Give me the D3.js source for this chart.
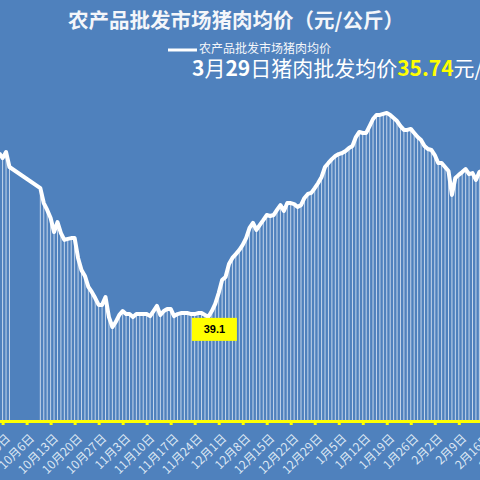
<!DOCTYPE html>
<html>
<head>
<meta charset="utf-8">
<script src="https://cdn.jsdelivr.net/npm/d3@7"></script>
<style>
html, body { margin: 0; padding: 0; background: #4f81bd; overflow: hidden; }
svg { display: block; }
</style>
</head>
<body>
<svg id="chart" width="480" height="480"></svg>
<script>
const titleText = "农产品批发市场猪肉均价（元/公斤）";
const seriesName = "农产品批发市场猪肉均价";
// subtitle pieces: [text, bold, yellow]
const noteParts = [
    ["3", true, false], ["月", false, false], ["29", true, false],
    ["日猪肉批发均价", false, false], ["35.74", true, true], ["元/公斤", false, false]
];

const priceDates = [
    "2020-09-28", "2020-09-29", "2020-09-30", "2020-10-01",
    "2020-10-10", "2020-10-11", "2020-10-12", "2020-10-13", "2020-10-14", "2020-10-15", "2020-10-16",
    "2020-10-17", "2020-10-18", "2020-10-19", "2020-10-20", "2020-10-21", "2020-10-22", "2020-10-23",
    "2020-10-24", "2020-10-25", "2020-10-26", "2020-10-27", "2020-10-28", "2020-10-29", "2020-10-30",
    "2020-10-31",
    "2020-11-01", "2020-11-02", "2020-11-03", "2020-11-04", "2020-11-05", "2020-11-06", "2020-11-07",
    "2020-11-08", "2020-11-09", "2020-11-10", "2020-11-11", "2020-11-12", "2020-11-13", "2020-11-14",
    "2020-11-15", "2020-11-16", "2020-11-17", "2020-11-18", "2020-11-19", "2020-11-20", "2020-11-21",
    "2020-11-22", "2020-11-23", "2020-11-24", "2020-11-25", "2020-11-26", "2020-11-27", "2020-11-28",
    "2020-11-29", "2020-11-30",
    "2020-12-01", "2020-12-02", "2020-12-03", "2020-12-04", "2020-12-05", "2020-12-06", "2020-12-07",
    "2020-12-08", "2020-12-09", "2020-12-10", "2020-12-11", "2020-12-12", "2020-12-13", "2020-12-14",
    "2020-12-15", "2020-12-16", "2020-12-17", "2020-12-18", "2020-12-19", "2020-12-20", "2020-12-21",
    "2020-12-22", "2020-12-23", "2020-12-24", "2020-12-25", "2020-12-26", "2020-12-27", "2020-12-28",
    "2020-12-29", "2020-12-30", "2020-12-31",
    "2021-01-01", "2021-01-02", "2021-01-03", "2021-01-04", "2021-01-05", "2021-01-06", "2021-01-07",
    "2021-01-08", "2021-01-09", "2021-01-10", "2021-01-11", "2021-01-12", "2021-01-13", "2021-01-14",
    "2021-01-15", "2021-01-16", "2021-01-17", "2021-01-18", "2021-01-19", "2021-01-20", "2021-01-21",
    "2021-01-22", "2021-01-23", "2021-01-24", "2021-01-25", "2021-01-26", "2021-01-27", "2021-01-28",
    "2021-01-29", "2021-01-30", "2021-01-31",
    "2021-02-01", "2021-02-02", "2021-02-03", "2021-02-04", "2021-02-05", "2021-02-06", "2021-02-07",
    "2021-02-08", "2021-02-09", "2021-02-10", "2021-02-11", "2021-02-12", "2021-02-13", "2021-02-14",
    "2021-02-15", "2021-02-16", "2021-02-17"
];

const priceValues = [
    45.55, 45.35, 45.59, 45.00,
    44.17, 43.58, 43.31, 42.99, 42.44, 42.83, 42.40,
    42.13, 42.17, 42.20, 42.20, 41.42, 40.94, 40.71,
    40.28, 40.08, 39.84, 39.57, 39.57, 39.88, 39.09,
    38.70,
    38.90, 39.17, 39.33, 39.21, 39.21, 39.09, 39.21,
    39.21, 39.21, 39.21, 39.13, 39.33, 39.53, 39.17,
    39.33, 39.41, 39.41, 39.13, 39.21, 39.25, 39.25,
    39.25, 39.21, 39.21, 39.25, 39.25, 39.17, 39.10,
    39.33, 39.61,
    40.04, 40.55, 40.67, 41.18, 41.42, 41.57, 41.73,
    41.93, 42.20, 42.60, 42.80, 42.52, 42.72, 42.91,
    43.11, 43.07, 43.11, 43.31, 43.50, 43.27, 43.58,
    43.58, 43.54, 43.43, 43.50, 43.78, 43.94, 43.98,
    44.17, 44.37, 44.61,
    45.00, 45.16, 45.31, 45.43, 45.51, 45.55, 45.63,
    45.75, 45.83, 46.18, 46.38, 46.34, 46.34, 46.61,
    46.89, 47.05, 47.05, 47.09, 47.13, 47.05, 46.93,
    46.81, 46.61, 46.46, 46.46, 46.50, 46.34, 46.18,
    46.06, 45.83, 45.71,
    45.67, 45.47, 45.16, 45.16, 45.00, 44.84, 43.90,
    44.57, 44.69, 44.80, 44.92, 44.72, 44.76, 44.49,
    44.80, 44.88, 45.05
];

const tickDates = [
    "2020-09-22", "2020-09-29", "2020-10-06", "2020-10-13", "2020-10-20", "2020-10-27",
    "2020-11-03", "2020-11-10", "2020-11-17", "2020-11-24", "2020-12-01", "2020-12-08",
    "2020-12-15", "2020-12-22", "2020-12-29", "2021-01-05", "2021-01-12", "2021-01-19",
    "2021-01-26", "2021-02-02", "2021-02-09", "2021-02-16", "2021-02-23"
];

const labelDate = "2020-11-28";
const labelText = "39.1";

const parse = d3.timeParse("%Y-%m-%d");
const fmtDay = d => `${d.getMonth() + 1}月${d.getDate()}日`;

const data = priceDates.map((d, i) => ({ date: parse(d), value: priceValues[i] }));

const W = 480, H = 480;
const font = "'Noto Sans CJK SC', 'Noto Sans', sans-serif";

const svg = d3.select("#chart");
svg.append("rect").attr("width", W).attr("height", H).attr("fill", "#4f81bd");

// day width ~3.43px, 9/22 .. 2/23
const x = d3.scaleTime()
    .domain([parse("2020-09-22"), parse("2021-02-23")])
    .range([-21.4, 506.8]);

const y = d3.scaleLinear()
    .domain([35, 49])
    .range([421, 65.4]);

// drop lines
svg.append("g")
    .selectAll("line")
    .data(data)
    .enter().append("line")
    .attr("x1", d => x(d.date))
    .attr("x2", d => x(d.date))
    .attr("y1", d => y(d.value))
    .attr("y2", y(35))
    .attr("stroke", "#e4ecf7")
    .attr("stroke-opacity", 0.8)
    .attr("stroke-width", 1);

// x axis
const axis = svg.append("g")
    .attr("transform", `translate(0,${y(35)})`)
    .call(d3.axisBottom(x)
        .tickValues(tickDates.map(parse))
        .tickFormat(fmtDay)
        .tickSize(4)
        .tickSizeOuter(0));

axis.select(".domain").attr("stroke", "#ffff00").attr("stroke-width", 3);
axis.selectAll(".tick line").attr("stroke", "#ffff00").attr("stroke-width", 3);
axis.selectAll(".tick text")
    .attr("fill", "#dde7f4")
    .attr("font-family", font)
    .attr("font-size", 12)
    .attr("text-anchor", "end")
    .attr("x", 0)
    .attr("y", 0)
    .attr("dy", "0.35em")
    .attr("transform", "translate(5,15) rotate(-45)");

// price line
const line = d3.line()
    .x(d => x(d.date))
    .y(d => y(d.value));

svg.append("path")
    .datum(data)
    .attr("fill", "none")
    .attr("stroke", "#ffffff")
    .attr("stroke-width", 4)
    .attr("stroke-linejoin", "round")
    .attr("d", line);

// data label
const ld = data.find(d => +d.date === +parse(labelDate));
const lg = svg.append("g")
    .attr("transform", `translate(${x(ld.date) + 6},${y(ld.value) + 1})`);
lg.append("rect")
    .attr("x", -22.5).attr("y", 0)
    .attr("width", 45).attr("height", 23)
    .attr("fill", "#ffff00");
lg.append("text")
    .attr("x", 0).attr("y", 11.5)
    .attr("dy", "0.35em")
    .attr("text-anchor", "middle")
    .attr("font-family", "'Liberation Sans', Arial, sans-serif")
    .attr("font-weight", "bold")
    .attr("font-size", 11)
    .attr("fill", "#000")
    .text(labelText);

// title
svg.append("text")
    .attr("x", 236).attr("y", 28)
    .attr("text-anchor", "middle")
    .attr("font-family", font)
    .attr("font-weight", "bold")
    .attr("font-size", 20.5)
    .attr("fill", "#f4f6fa")
    .text(titleText);

// legend
svg.append("line")
    .attr("x1", 168).attr("x2", 197)
    .attr("y1", 50).attr("y2", 50)
    .attr("stroke", "#ffffff").attr("stroke-width", 3);
svg.append("text")
    .attr("x", 199).attr("y", 49)
    .attr("dy", "0.35em")
    .attr("font-family", font)
    .attr("font-size", 12)
    .attr("fill", "#f4f6fa")
    .text(seriesName);

// note
const note = svg.append("text")
    .attr("x", 192).attr("y", 76)
    .attr("font-family", font)
    .attr("font-size", 21)
    .attr("fill", "#ffffff");
note.selectAll("tspan")
    .data(noteParts)
    .enter().append("tspan")
    .attr("font-weight", d => d[1] ? "bold" : "normal")
    .attr("fill", d => d[2] ? "#ffff00" : "#ffffff")
    .text(d => d[0]);
</script>
</body>
</html>
